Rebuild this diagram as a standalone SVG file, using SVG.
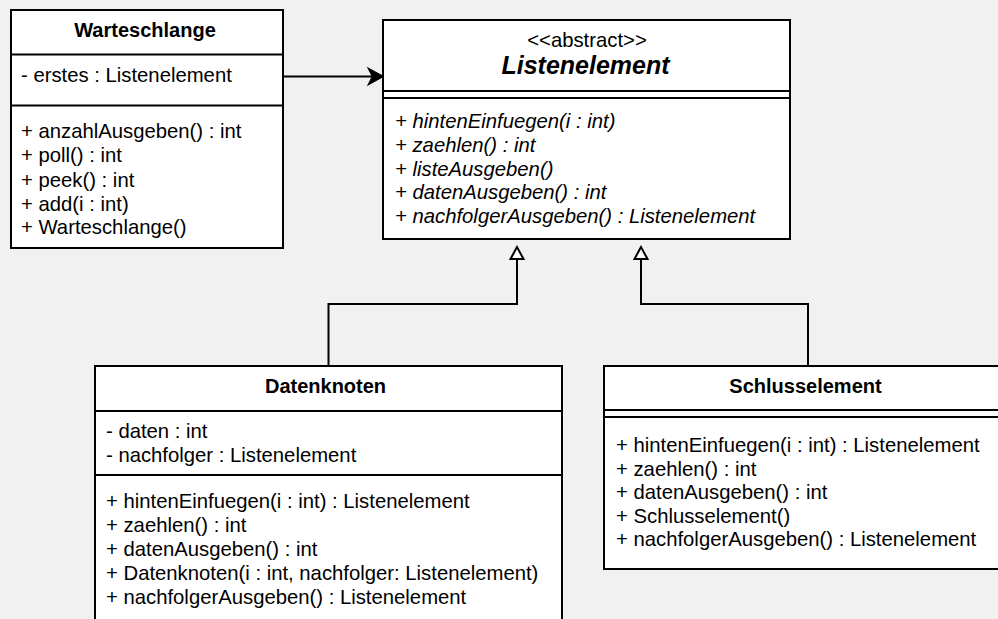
<svg xmlns="http://www.w3.org/2000/svg" width="998" height="619" viewBox="0 0 998 619">
<defs>
<style>
.box{fill:#fff;stroke:#000;stroke-width:2}
.ln{fill:none;stroke:#000;stroke-width:2}
text{font-family:"Liberation Sans",Arial,Helvetica,sans-serif;font-size:20.3px;fill:#000}
.t{font-weight:bold;text-anchor:middle;font-size:20px}
.it{font-style:italic}
.c{text-anchor:middle}
</style>
</defs>
<rect x="0" y="0" width="998" height="619" fill="#f1f1f1"/>
<g id="connectors">
<line class="ln" x1="283" y1="76.5" x2="372" y2="76.5"/>
<path d="M383,76.5 L368.5,68.5 L372.5,76.5 L368.5,84.5 Z" fill="#000" stroke="#000" stroke-width="1.5" stroke-linejoin="miter"/>
<path class="ln" d="M328.5,366 V304 H517 V259"/>
<path d="M517,247 L510.5,259 L523.5,259 Z" fill="#fff" stroke="#000" stroke-width="2"/>
<path class="ln" d="M808,366 V304 H641 V259"/>
<path d="M641,247 L634.5,259 L647.5,259 Z" fill="#fff" stroke="#000" stroke-width="2"/>
</g>
<g id="Warteschlange">
<rect class="box" x="11" y="10" width="272" height="238"/>
<line class="ln" x1="11" y1="54.5" x2="283" y2="54.5"/>
<line class="ln" x1="11" y1="105.5" x2="283" y2="105.5"/>
<text class="t" x="145" y="37">Warteschlange</text>
<text x="21" y="82">- erstes : Listenelement</text>
<text x="21" y="138">+ anzahlAusgeben() : int</text>
<text x="21" y="162">+ poll() : int</text>
<text x="21" y="186.5">+ peek() : int</text>
<text x="21" y="210.5">+ add(i : int)</text>
<text x="21" y="234">+ Warteschlange()</text>
</g>
<g id="Listenelement">
<rect class="box" x="383" y="20" width="407" height="219"/>
<line class="ln" x1="383" y1="91" x2="790" y2="91"/>
<line class="ln" x1="383" y1="98" x2="790" y2="98"/>
<text class="c" x="587" y="47">&lt;&lt;abstract&gt;&gt;</text>
<text class="t it" x="585.5" y="74" style="font-size:25px">Listenelement</text>
<text class="it" x="395" y="128.3">+ hintenEinfuegen(i : int)</text>
<text class="it" x="395" y="152">+ zaehlen() : int</text>
<text class="it" x="395" y="175.6">+ listeAusgeben()</text>
<text class="it" x="395" y="199.3">+ datenAusgeben() : int</text>
<text class="it" x="395" y="223">+ nachfolgerAusgeben() : Listenelement</text>
</g>
<g id="Datenknoten">
<rect class="box" x="95" y="366" width="467" height="280"/>
<line class="ln" x1="95" y1="411" x2="562" y2="411"/>
<line class="ln" x1="95" y1="475" x2="562" y2="475"/>
<text class="t" x="325.5" y="393">Datenknoten</text>
<text x="106" y="438.3">- daten : int</text>
<text x="106" y="461.7">- nachfolger : Listenelement</text>
<text x="106" y="508.3">+ hintenEinfuegen(i : int) : Listenelement</text>
<text x="106" y="532.3">+ zaehlen() : int</text>
<text x="106" y="556.3">+ datenAusgeben() : int</text>
<text x="106" y="580.3">+ Datenknoten(i : int, nachfolger: Listenelement)</text>
<text x="106" y="604.3">+ nachfolgerAusgeben() : Listenelement</text>
</g>
<g id="Schlusselement">
<rect class="box" x="604" y="366" width="408" height="203"/>
<line class="ln" x1="604" y1="410" x2="1012" y2="410"/>
<line class="ln" x1="604" y1="417" x2="1012" y2="417"/>
<text class="t" x="805.5" y="393">Schlusselement</text>
<text x="616" y="452.3">+ hintenEinfuegen(i : int) : Listenelement</text>
<text x="616" y="475.7">+ zaehlen() : int</text>
<text x="616" y="499.1">+ datenAusgeben() : int</text>
<text x="616" y="522.5">+ Schlusselement()</text>
<text x="616" y="546">+ nachfolgerAusgeben() : Listenelement</text>
</g>
</svg>
